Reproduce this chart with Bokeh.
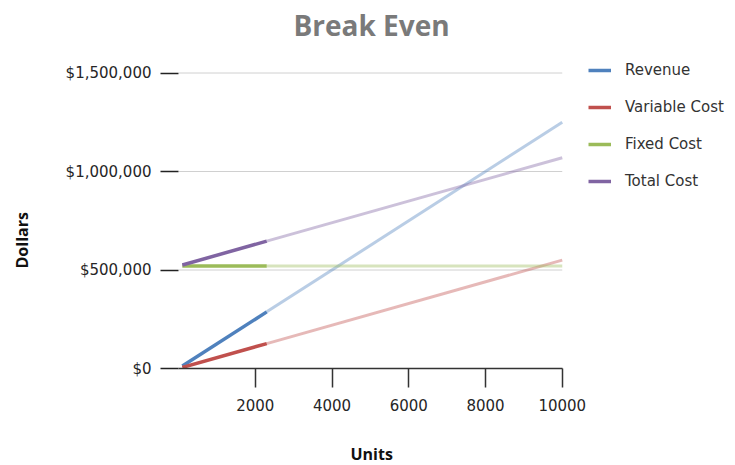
from bokeh.plotting import figure
from bokeh.models import Range1d, FixedTicker, NumeralTickFormatter, Legend, LegendItem, Label, Title
from bokeh.embed import file_html
from bokeh.resources import INLINE

# ---- data ----
units_actual = [100, 2300]
units_proj = [2300, 10000]
revenue_actual = [12500, 287500]
revenue_proj = [287500, 1250000]
variable_actual = [5500, 126500]
variable_proj = [126500, 550000]
fixed_actual = [520000, 520000]
fixed_proj = [520000, 520000]
total_actual = [525500, 646500]
total_proj = [646500, 1070000]

series_names = ["Revenue", "Variable Cost", "Fixed Cost", "Total Cost"]
x_ticks = [2000, 4000, 6000, 8000, 10000]
y_ticks = [0, 500000, 1000000, 1500000]
x_min, x_max = 0, 10000
y_min, y_max = 0, 1500000

colors = ["#4F81BD", "#C0504D", "#9BBB59", "#8064A2"]

# layout geometry (pixels)
W, H = 735, 465
left, bottom, top = 178, 97, 8
axis_px_x = 383.75   # pixels spanned by x_min..x_max
axis_px_y = 295.5    # pixels spanned by y_min..y_max
frame_w = W - left
frame_h = H - bottom - top

p = figure(width=W, height=H, output_backend="svg", toolbar_location=None,
           x_range=Range1d(x_min, x_min + (x_max - x_min) * frame_w / axis_px_x),
           y_range=Range1d(y_min, y_min + (y_max - y_min) * frame_h / axis_px_y),
           min_border_left=left, min_border_right=0, min_border_top=top,
           min_border_bottom=bottom)
p.outline_line_color = None
p.background_fill_color = "white"
p.border_fill_color = "white"
p.xgrid.visible = False
p.ygrid.visible = False

# gridlines limited to the axis extent
grid_y = y_ticks[1:]
p.segment(x0=[x_min] * len(grid_y), x1=[x_max] * len(grid_y), y0=grid_y, y1=grid_y,
          line_color="#d0d0d0", line_width=1)

# x axis
xa = p.xaxis[0]
xa.ticker = FixedTicker(ticks=x_ticks)
xa.bounds = (x_min, x_max)
xa.axis_line_color = "#333333"
xa.axis_line_width = 1.5
xa.major_tick_line_color = "#333333"
xa.major_tick_line_width = 1.5
xa.major_tick_out = 19
xa.major_tick_in = 0
xa.minor_tick_line_color = None
xa.major_label_standoff = 11
xa.major_label_text_font = "DejaVu Sans"
xa.major_label_text_font_size = "15px"
xa.major_label_text_color = "#262626"

# y axis
ya = p.yaxis[0]
ya.ticker = FixedTicker(ticks=y_ticks)
ya.formatter = NumeralTickFormatter(format="$0,0")
ya.axis_line_color = None
ya.major_tick_line_color = "#222222"
ya.major_tick_line_width = 1.5
ya.major_tick_out = 18
ya.major_tick_in = 0
ya.minor_tick_line_color = None
ya.major_label_standoff = 9
ya.major_label_text_font = "DejaVu Sans"
ya.major_label_text_font_size = "15px"
ya.major_label_text_color = "#262626"

actual = [revenue_actual, variable_actual, fixed_actual, total_actual]
proj = [revenue_proj, variable_proj, fixed_proj, total_proj]

for ys, c in zip(proj, colors):
    p.line(units_proj, ys, line_color=c, line_alpha=0.4, line_width=3)

items = []
for name, ys, c in zip(series_names, actual, colors):
    r = p.line(units_actual, ys, line_color=c, line_width=3.5)
    items.append(LegendItem(label=name, renderers=[r]))

legend = Legend(items=items, location=(410, 177), orientation="vertical",
                padding=0, margin=0, spacing=17, glyph_width=23, glyph_height=20,
                label_height=20, label_standoff=14, label_text_font="DejaVu Sans",
                label_text_font_size="15px", label_text_color="#333333",
                border_line_color=None, background_fill_alpha=0)
p.add_layout(legend, "center")

# chart title (inside the frame area, above the data)
title = Label(x=193, y=344, x_units="screen", y_units="screen", text="Break Even",
              text_align="center", text_baseline="middle",
              text_font="Open Sans", text_font_style="bold", text_font_size="28px",
              text_color="#7a7a7a")
p.add_layout(title)

# axis titles
ylab = Title(text="Dollars", align="left", offset=100, standoff=0,
             padding=dict(left=0, right=0, top=0, bottom=30),
             text_font="Open Sans", text_font_style="bold", text_font_size="16px",
             text_color="#111111")
p.add_layout(ylab, "left")
xlab = Title(text="Units", align="left", offset=172, standoff=0,
             padding=dict(left=0, right=0, top=27, bottom=0),
             text_font="Open Sans", text_font_style="bold", text_font_size="16px",
             text_color="#111111")
p.add_layout(xlab, "below")

open("out.html", "w").write(file_html(p, INLINE))
